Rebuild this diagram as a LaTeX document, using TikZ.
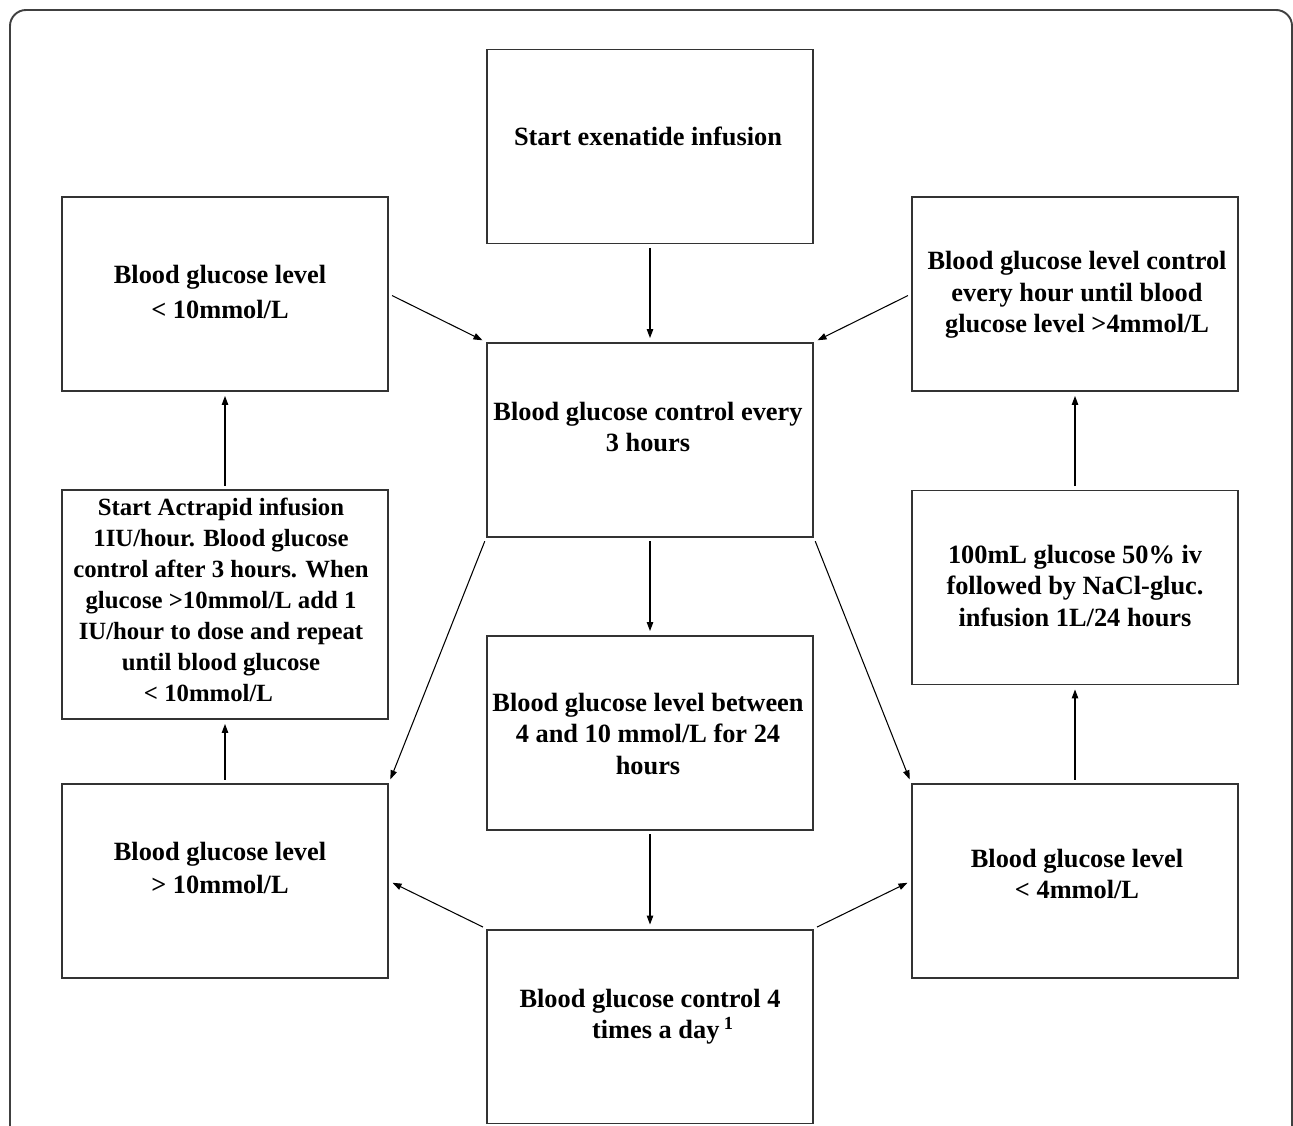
\documentclass[tikz,border=0pt]{standalone}
\usepackage{fontspec}
\setmainfont{Liberation Serif}
\usetikzlibrary{arrows.meta}
\begin{document}
\begin{tikzpicture}[x=0.02cm,y=-0.02cm,
  stepbox/.style={draw=black!80,line width=1.1pt,minimum width=6.52cm,minimum height=3.88cm,inner sep=0pt},
  txt/.style={align=center,inner sep=0pt,font=\bfseries\fontsize{15pt}{17.8pt}\selectfont},
  conn/.style={draw=black,line width=0.6pt,-{Triangle[length=0.18cm,width=0.13cm]},shorten <=0.07cm,shorten >=0.08cm}]
\useasboundingbox (0,0) rectangle (1293,1125);
\begin{scope}
\clip (0,0) rectangle (1293,1125);
\draw[black!75,line width=1.1pt,rounded corners=0.32cm] (10,10) rectangle (1292,1220);
\end{scope}
% boxes
\node[stepbox] (start) at (650,146.5) {};
\node[stepbox] (lt10) at (225,294) {};
\node[stepbox] (rt) at (1075,294) {};
\node[stepbox] (ctl3) at (650,440) {};
\node[stepbox,minimum height=4.58cm] (act) at (225,604.5) {};
\node[stepbox] (gl100) at (1075,587.5) {};
\node[stepbox] (betw) at (650,733) {};
\node[stepbox] (gt10) at (225,881) {};
\node[stepbox] (lt4) at (1075,881) {};
\node[stepbox] (ctl4) at (650,1026.5) {};
% texts
\node[txt] (t1) at (648,136) {Start exenatide infusion};
\node[txt,font=\bfseries\fontsize{15pt}{19.6pt}\selectfont] (t2) at (220,292) {Blood glucose level\\< 10mmol/L};
\node[txt] (t3) at (1077,295) {Blood glucose level control\\every hour until blood\\glucose level >4mmol/L};
\node[txt] (t4) at (648,427) {Blood glucose control every\\3 hours};
\node[txt,font=\bfseries\fontsize{14.1pt}{17.6pt}\selectfont] (t5) at (221,600) {Start Actrapid infusion\\1IU/hour. Blood glucose\\control after 3 hours. When\\glucose >10mmol/L add 1\\IU/hour to dose and repeat\\until blood glucose\\< 10mmol/L\hspace*{0.5cm}};
\node[txt] (t6) at (1075,586) {100mL glucose 50\% iv\\followed by NaCl-gluc.\\infusion 1L/24 hours};
\node[txt] (t7) at (648,734) {Blood glucose level between\\4 and 10 mmol/L for 24\\hours};
\node[txt,font=\bfseries\fontsize{15pt}{18.6pt}\selectfont] (t8) at (220,868) {Blood glucose level\\> 10mmol/L};
\node[txt] (t9) at (1077,874) {Blood glucose level\\< 4mmol/L};
\node[txt] (t10) at (650,1017) {Blood glucose control 4\\\hspace*{0.52cm}times a day\,$^{\mathbf{1}}$};
% connectors
\draw[conn] (start.south) -- (ctl3.north);
\draw[conn] (lt10.east) -- (ctl3.north west);
\draw[conn] (rt.west) -- (ctl3.north east);
\draw[conn] (ctl3.south) -- (betw.north);
\draw[conn] (ctl3.south west) -- (gt10.north east);
\draw[conn] (ctl3.south east) -- (lt4.north west);
\draw[conn] (betw.south) -- (ctl4.north);
\draw[conn] (ctl4.north west) -- (gt10.east);
\draw[conn] (ctl4.north east) -- (lt4.west);
\draw[conn] (gt10.north) -- (act.south);
\draw[conn] (act.north) -- (lt10.south);
\draw[conn] (lt4.north) -- (gl100.south);
\draw[conn] (gl100.north) -- (rt.south);
\end{tikzpicture}
\end{document}
